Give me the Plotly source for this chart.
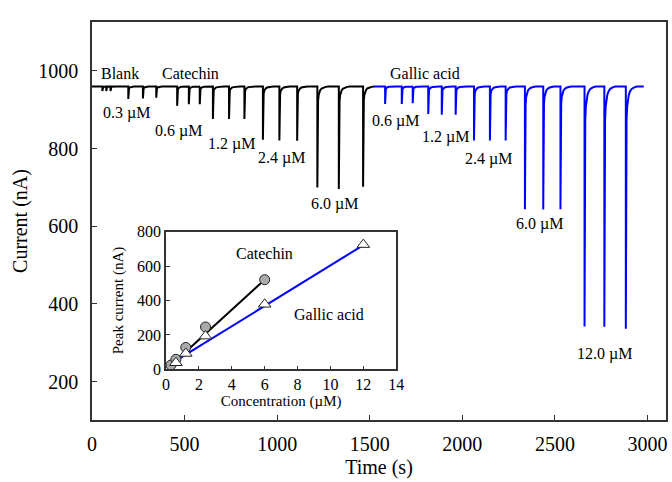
import plotly.graph_objects as go

# ---------------- data ----------------
baseline = 960  # nA

blank_t = [56, 77, 100]
blank_i = [948, 948, 948]

cat_t = [196, 275, 347, 460, 523, 582, 653, 740, 823, 923, 1012, 1108, 1217, 1333, 1464]
cat_i = [928, 929, 931, 910, 914, 914, 876, 876, 876, 823, 821, 820, 700, 696, 702]

gal_t = [1583, 1673, 1732, 1816, 1889, 1964, 2063, 2149, 2234, 2338, 2437, 2530, 2660, 2767, 2883]
gal_i = [915, 915, 917, 889, 887, 887, 821, 821, 821, 644, 643, 644, 342, 341, 336]

cat_trace_start, cat_trace_end = 0, 1521
gal_trace_start, gal_trace_end = 1521, 2980

# recovery profile after each injection (seconds after peak, remaining fraction of peak depth)
rec_dt = [0, 1, 2, 4, 7, 11, 16, 23, 32, 45, 60]
rec_frac = [1, 0.5, 0.28, 0.14, 0.085, 0.055, 0.035, 0.02, 0.01, 0.004, 0]

# inset (calibration)
cat_conc = [0.3, 0.6, 1.2, 2.4, 6.0]
cat_peak = [25, 58, 127, 246, 521]
gal_conc = [0.6, 1.2, 2.4, 6.0, 12.0]
gal_peak = [38, 92, 193, 378, 725]
cat_fit_x = [0.6, 6.0]
cat_fit_y = [50, 521]
gal_fit_x = [0.6, 12.0]
gal_fit_y = [50, 722]

x_ticks = [0, 500, 1000, 1500, 2000, 2500, 3000]
y_ticks = [200, 400, 600, 800, 1000]
inset_x_ticks = [0, 2, 4, 6, 8, 10, 12, 14]
inset_y_ticks = [0, 200, 400, 600, 800]

# main-plot labels: (text, time, current)
main_labels = [
    ("Blank", 150, 994), ("Catechin", 533, 994), ("Gallic acid", 1798, 994),
    ("0.3 µM", 187, 891), ("0.6 µM", 469, 846), ("1.2 µM", 752, 812),
    ("2.4 µM", 1025, 775), ("6.0 µM", 1309, 658),
    ("0.6 µM", 1637, 870), ("1.2 µM", 1908, 829), ("2.4 µM", 2142, 774),
    ("6.0 µM", 2419, 606), ("12.0 µM", 2770, 272),
]
inset_labels = [("Catechin", 5.97, 676), ("Gallic acid", 9.92, 320)]


def build_trace(spike_t, spike_i, t0, t1):
    xs, ys = [t0], [baseline]
    for ts, ip in zip(spike_t, spike_i):
        xs.append(ts)
        ys.append(baseline)
        depth = baseline - ip
        for dt, f in zip(rec_dt, rec_frac):
            xs.append(ts + dt)
            ys.append(baseline - depth * f)
    xs.append(t1)
    ys.append(baseline)
    return xs, ys


FONT = "Liberation Serif"
AX = "#333333"

cx, cy = build_trace(blank_t + cat_t, blank_i + cat_i, cat_trace_start, cat_trace_end)
gx, gy = build_trace(gal_t, gal_i, gal_trace_start, gal_trace_end)

fig = go.Figure()
fig.add_trace(go.Scatter(x=cx, y=cy, mode="lines", line=dict(color="black", width=2),
                         showlegend=False, hoverinfo="skip"))
fig.add_trace(go.Scatter(x=gx, y=gy, mode="lines", line=dict(color="#0000ff", width=2),
                         showlegend=False, hoverinfo="skip"))

# inset
fig.add_trace(go.Scatter(x=cat_fit_x, y=cat_fit_y, mode="lines", line=dict(color="black", width=2),
                         xaxis="x2", yaxis="y2", showlegend=False))
fig.add_trace(go.Scatter(x=gal_fit_x, y=gal_fit_y, mode="lines", line=dict(color="#0000ff", width=2),
                         xaxis="x2", yaxis="y2", showlegend=False))
fig.add_trace(go.Scatter(x=cat_conc, y=cat_peak, mode="markers",
                         marker=dict(symbol="circle", size=10, color="#aaaaaa",
                                     line=dict(color="#222222", width=1)),
                         xaxis="x2", yaxis="y2", showlegend=False))
fig.add_trace(go.Scatter(x=gal_conc, y=gal_peak, mode="markers",
                         marker=dict(symbol="triangle-up", size=11, color="white",
                                     line=dict(color="#222222", width=1)),
                         xaxis="x2", yaxis="y2", showlegend=False))

annotations = []
for txt, x, y in main_labels:
    annotations.append(dict(text=txt, x=x, y=y, xref="x", yref="y", showarrow=False,
                            font=dict(family=FONT, size=16, color="black")))
for txt, x, y in inset_labels:
    annotations.append(dict(text=txt, x=x, y=y, xref="x2", yref="y2", showarrow=False,
                            font=dict(family=FONT, size=16, color="black")))

common = dict(showline=True, linecolor=AX, linewidth=1.5, mirror=True, showgrid=False,
              zeroline=False, ticks="inside", tickcolor=AX, automargin=False)

fig.update_layout(
    width=672, height=482,
    margin=dict(l=92, r=6, t=22, b=62, autoexpand=False),
    paper_bgcolor="white", plot_bgcolor="white",
    font=dict(family=FONT, color="black"),
    annotations=annotations,
    xaxis=dict(range=[0, 3100], tickvals=x_ticks, ticklen=5, tickwidth=1.2,
               tickfont=dict(size=20, family=FONT), ticklabelstandoff=5,
               title=dict(text="Time (s)", font=dict(size=20, family=FONT), standoff=6), **common),
    yaxis=dict(range=[101, 1126], tickvals=y_ticks, ticklen=5, tickwidth=1.2,
               tickfont=dict(size=20, family=FONT), ticklabelstandoff=8,
               title=dict(text="Current (nA)", font=dict(size=20, family=FONT), standoff=5), **common),
    xaxis2=dict(domain=[0.129, 0.530], anchor="y2", range=[0, 14], tickvals=inset_x_ticks,
                ticklen=4, tickfont=dict(size=16, family=FONT),
                title=dict(text="Concentration (µM)", font=dict(size=15, family=FONT), standoff=2), **common),
    yaxis2=dict(domain=[0.1274, 0.4731], anchor="x2", range=[0, 800], tickvals=inset_y_ticks,
                ticklen=4, tickfont=dict(size=16, family=FONT),
                title=dict(text="Peak current (nA)", font=dict(size=15, family=FONT), standoff=10), **common),
)

# remove the default 8 px page margin so the 672x482 figure fills the window exactly
fig.write_html("out.html",
               config={"displayModeBar": False},
               post_script="document.body.style.margin='0';document.body.style.overflow='hidden';")
